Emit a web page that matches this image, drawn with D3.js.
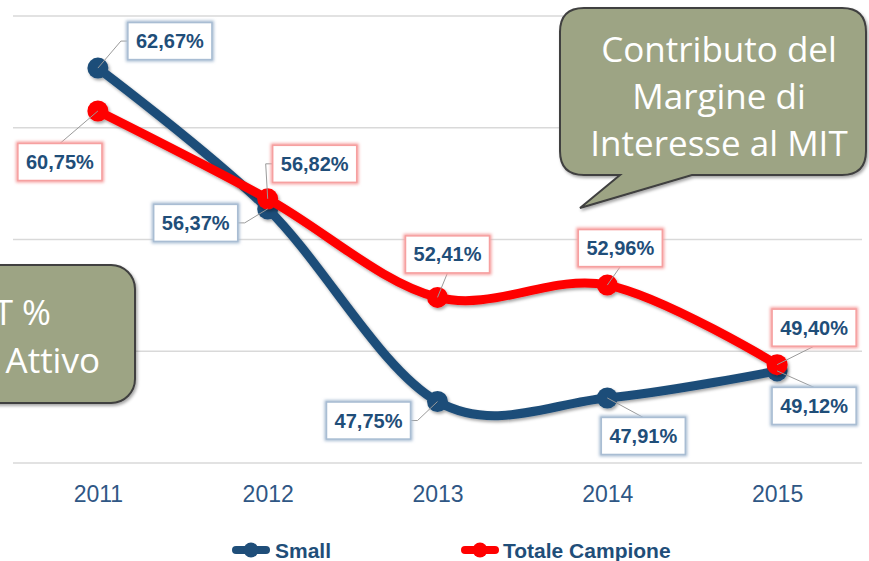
<!DOCTYPE html>
<html>
<head>
<meta charset="utf-8">
<script src="https://cdn.jsdelivr.net/npm/d3@7"></script>
<style>
  body { margin: 0; background: #fff; }
  svg { display: block; }
</style>
</head>
<body>
<div id="chart"></div>
<script>
const years = ["2011", "2012", "2013", "2014", "2015"];
const small = [62.67, 56.37, 47.75, 47.91, 49.12];
const totale = [60.75, 56.82, 52.41, 52.96, 49.40];
const yTicks = [45, 50, 55, 60, 65];
const seriesNames = ["Small", "Totale Campione"];
const calloutRight = ["Contributo del", "Margine di", "Interesse al MIT"];
const calloutLeft = ["T %", "Attivo"];

const width = 869, height = 561;
const blue = "#1f4e79", red = "#ff0000";

const svg = d3.select("#chart").append("svg")
    .attr("width", width)
    .attr("height", height);

const defs = svg.append("defs");
const shadow = defs.append("filter").attr("id", "shadow")
    .attr("x", "-20%").attr("y", "-20%").attr("width", "140%").attr("height", "140%");
shadow.append("feDropShadow").attr("dx", 1.5).attr("dy", 2).attr("stdDeviation", 1.5)
    .attr("flood-color", "#000").attr("flood-opacity", 0.35);
const glow = defs.append("filter").attr("id", "glow")
    .attr("x", "-20%").attr("y", "-30%").attr("width", "140%").attr("height", "160%");
glow.append("feGaussianBlur").attr("stdDeviation", 1.6);

const x = d3.scalePoint()
    .domain(years)
    .range([13, 862])
    .padding(0.5);

const y = d3.scaleLinear()
    .domain([45, 65])
    .range([463, 16]);

// grid
svg.append("g")
    .selectAll("line")
    .data(yTicks)
    .join("line")
    .attr("x1", 13)
    .attr("x2", 862)
    .attr("y1", d => y(d))
    .attr("y2", d => y(d))
    .attr("stroke", "#d9d9d9")
    .attr("stroke-width", 1.3);

// x axis
const xAxis = svg.append("g")
    .attr("transform", `translate(0,${y(45)})`)
    .call(d3.axisBottom(x).tickSize(0).tickPadding(23));
xAxis.select(".domain").remove();
xAxis.selectAll("text")
    .attr("fill", "#2f5785")
    .style("font-family", "'Liberation Sans Narrow', 'Liberation Sans', sans-serif")
    .style("font-size", "23px");

// callouts
const boxes = svg.append("g");
boxes.append("path")
    .attr("d", (() => {
        const p = d3.path();
        const x0 = 560, y0 = 8, x1 = 866, y1 = 175, r = 24;
        p.moveTo(x0 + r, y0);
        p.lineTo(x1 - r, y0);
        p.quadraticCurveTo(x1, y0, x1, y0 + r);
        p.lineTo(x1, y1 - r);
        p.quadraticCurveTo(x1, y1, x1 - r, y1);
        p.lineTo(692, y1);
        p.lineTo(580, 208);
        p.lineTo(620, y1);
        p.lineTo(x0 + r, y1);
        p.quadraticCurveTo(x0, y1, x0, y1 - r);
        p.lineTo(x0, y0 + r);
        p.quadraticCurveTo(x0, y0, x0 + r, y0);
        p.closePath();
        return p.toString();
    })())
    .attr("fill", "#9da484")
    .attr("stroke", "#3f3f3f")
    .attr("stroke-width", 2)
    .attr("filter", "url(#shadow)");

boxes.append("text")
    .attr("text-anchor", "middle")
    .attr("fill", "#fff")
    .style("font-family", "'Open Sans', sans-serif")
    .style("font-size", "35px")
    .selectAll("tspan")
    .data(calloutRight)
    .join("tspan")
    .attr("x", 719)
    .attr("y", (d, i) => 62 + i * 47)
    .text(d => d);

boxes.append("rect")
    .attr("x", -30).attr("y", 265)
    .attr("width", 165).attr("height", 138)
    .attr("rx", 24)
    .attr("fill", "#9da484")
    .attr("stroke", "#3f3f3f")
    .attr("stroke-width", 2)
    .attr("filter", "url(#shadow)");

boxes.append("text")
    .attr("text-anchor", "end")
    .attr("fill", "#fff")
    .style("font-family", "'Open Sans', sans-serif")
    .style("font-size", "35px")
    .selectAll("tspan")
    .data(calloutLeft)
    .join("tspan")
    .attr("x", (d, i) => i === 0 ? 51 : 100)
    .attr("y", (d, i) => 325 + i * 48)
    .text(d => d);

// series
const series = [
    { name: seriesNames[0], values: small, color: blue, border: "#a9bdd3",
      offsets: [[72, -27], [-72, 14], [-69, 19], [36, 38], [37, 35]] },
    { name: seriesNames[1], values: totale, color: red, border: "#f6a0a0",
      offsets: [[-38, 51], [47, -35], [10, -43], [13, -37], [37, -37]] }
];

const line = d3.line()
    .x((d, i) => x(years[i]))
    .y(d => y(d))
    .curve(d3.curveCardinal.tension(0));

const lines = svg.append("g");
series.forEach(s => {
    const g = lines.append("g").attr("filter", "url(#shadow)");
    g.append("path")
        .datum(s.values)
        .attr("d", line)
        .attr("fill", "none")
        .attr("stroke", s.color)
        .attr("stroke-width", 9)
        .attr("stroke-linecap", "round");
    g.selectAll("circle")
        .data(s.values)
        .join("circle")
        .attr("cx", (d, i) => x(years[i]))
        .attr("cy", d => y(d))
        .attr("r", 10.5)
        .attr("fill", s.color);
});

// data labels
const fmt = v => v.toFixed(2).replace(".", ",") + "%";
const bw = 84, bh = 37;
const labels = svg.append("g");
series.forEach(s => {
    s.values.forEach((v, i) => {
        const px = x(years[i]), py = y(v);
        const cx = px + s.offsets[i][0], cy = py + s.offsets[i][1];
        let pts;
        if (Math.abs(s.offsets[i][0]) > bw / 2) {
            const side = s.offsets[i][0] > 0 ? cx - bw / 2 : cx + bw / 2;
            const elbow = s.offsets[i][0] > 0 ? side - 7 : side + 7;
            pts = [[px, py], [elbow, cy], [side, cy]];
        } else {
            const edge = s.offsets[i][1] > 0 ? cy - bh / 2 : cy + bh / 2;
            pts = [[px, py], [cx, edge]];
        }
        labels.append("path")
            .attr("d", d3.line()(pts))
            .attr("fill", "none")
            .attr("stroke", "#9a9a9a")
            .attr("stroke-width", 1);
        labels.append("rect")
            .attr("x", cx - bw / 2).attr("y", cy - bh / 2)
            .attr("width", bw).attr("height", bh)
            .attr("fill", "none")
            .attr("stroke", s.border)
            .attr("stroke-width", 4)
            .attr("filter", "url(#glow)");
        labels.append("rect")
            .attr("x", cx - bw / 2).attr("y", cy - bh / 2)
            .attr("width", bw).attr("height", bh)
            .attr("fill", "#fff")
            .attr("stroke", s.border)
            .attr("stroke-width", 1.5);
        labels.append("text")
            .attr("x", cx)
            .attr("y", cy + 7)
            .attr("text-anchor", "middle")
            .attr("fill", blue)
            .style("font-family", "'Liberation Sans', Arial, sans-serif")
            .style("font-weight", "bold")
            .style("font-size", "20px")
            .text(fmt(v));
    });
});

// legend
const legend = svg.append("g");
const legendX = [251, 480];
const textX = [275, 503];
series.forEach((s, i) => {
    legend.append("line")
        .attr("x1", legendX[i] - 15).attr("x2", legendX[i] + 15)
        .attr("y1", 550).attr("y2", 550)
        .attr("stroke", s.color)
        .attr("stroke-width", 8)
        .attr("stroke-linecap", "round");
    legend.append("circle")
        .attr("cx", legendX[i]).attr("cy", 550)
        .attr("r", 7.5)
        .attr("fill", s.color);
    legend.append("text")
        .attr("x", textX[i])
        .attr("y", 558)
        .attr("fill", blue)
        .style("font-family", "'Liberation Sans', Arial, sans-serif")
        .style("font-weight", "bold")
        .style("font-size", "21px")
        .text(s.name);
});
</script>
</body>
</html>
